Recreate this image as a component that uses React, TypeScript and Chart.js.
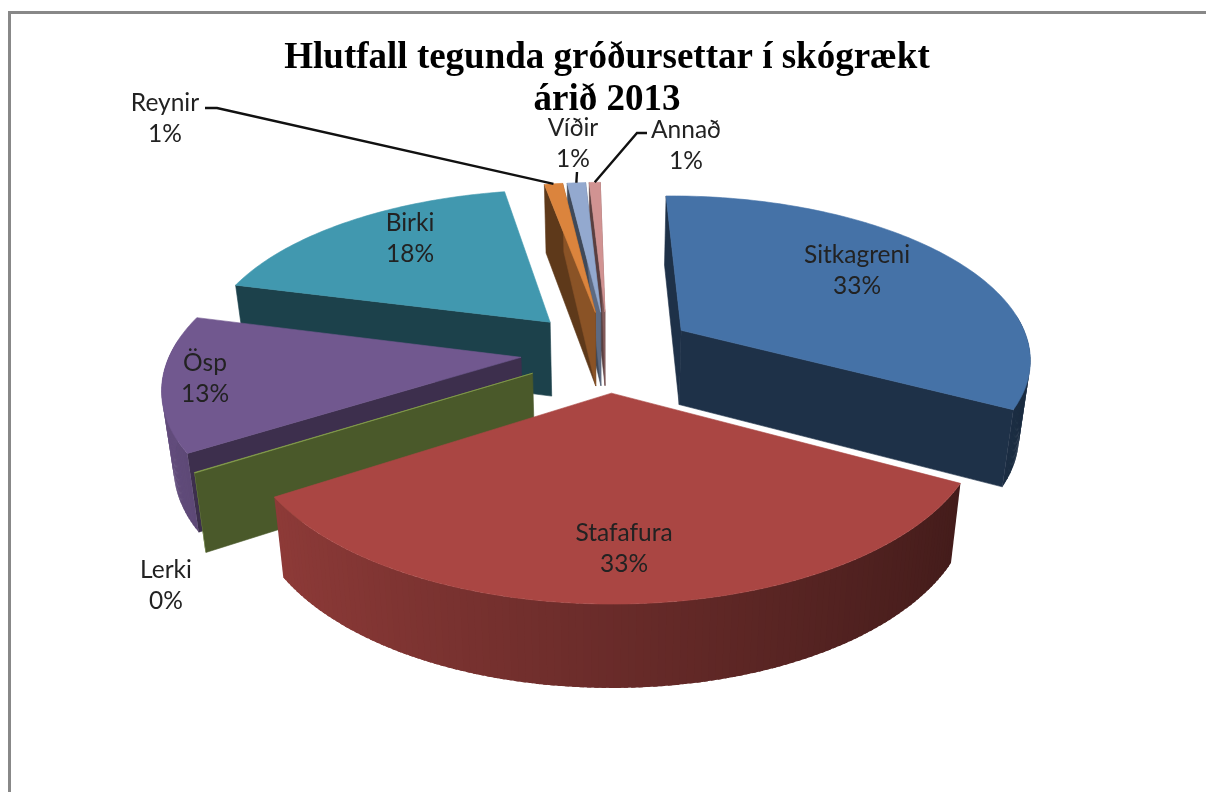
import React, { useEffect, useRef } from "react";
import { Chart, registerables } from "chart.js";

Chart.register(...registerables);

const CATEGORIES = ["Sitkagreni", "Stafafura", "Lerki", "Ösp", "Birki", "Reynir", "Víðir", "Annað"];
const VALUES = [33, 33, 0.05, 13, 18, 1, 1, 0.6];
const COLORS = ["#4572A7", "#AA4643", "#89A54E", "#71588F", "#4198AF", "#DB843D", "#93A9CF", "#D19392"];
const TITLE_LINES = ["Hlutfall tegunda gróðursettar í skógrækt", "árið 2013"];

// label anchors (centre of the two text lines) on the picture
const LABEL_X = [857, 624, 166, 205, 410, 165, 573, 686];
const LABEL_Y = [271, 549, 586, 379, 239, 119, 144, 146];
// leader line start points; the end is found from the slice itself
const LEADERS: Record<number, number[][]> = {
  5: [[205, 108], [217, 108]],
  6: [[577, 172]],
  7: [[647, 133], [637, 133]],
};

// view of the tilted disc
const CX = 608, CY = 351, AX = 350, BY = 162, K = 0.16, DEPTH = 75, CONVERGE = 0.027;

const shade = (hex: string, f: number) => {
  const n = parseInt(hex.slice(1), 16);
  const c = [(n >> 16) & 255, (n >> 8) & 255, n & 255].map((v) => Math.round(v * f));
  return `rgb(${c[0]},${c[1]},${c[2]})`;
};

const project = (u: number, v: number, down = false) => {
  const w = 1 + K * v;
  const sx = down ? 1 - CONVERGE : 1;
  return { x: CX + ((AX * u) / w) * sx, y: CY - (BY * v) / w + (down ? DEPTH / Math.sqrt(w) : 0) };
};

const poly = (ctx: CanvasRenderingContext2D, pts: { x: number; y: number }[], fill: string, stroke = true) => {
  ctx.beginPath();
  pts.forEach((p, i) => (i ? ctx.lineTo(p.x, p.y) : ctx.moveTo(p.x, p.y)));
  ctx.closePath();
  ctx.fillStyle = fill;
  ctx.fill();
  if (stroke) {
    ctx.strokeStyle = fill;
    ctx.lineWidth = 0.6;
    ctx.stroke();
  }
};

const sliceGeom = (arc: any) => {
  const t0 = arc.startAngle + Math.PI / 2;
  const t1 = arc.endAngle + Math.PI / 2;
  const mid = (t0 + t1) / 2;
  const e = (arc.options.offset || 0) / 100;
  return { t0, t1, mid, ou: e * Math.sin(mid), ov: e * Math.cos(mid) };
};

const pie3d = {
  id: "pie3d",
  beforeDatasetDraw(chart: any) {
    const ctx: CanvasRenderingContext2D = chart.ctx;
    const arcs: any[] = chart.getDatasetMeta(0).data;
    const order = arcs
      .map((a, i) => ({ a, i, g: sliceGeom(a) }))
      .sort((p, q) => Math.cos(q.g.mid) - Math.cos(p.g.mid));
    ctx.save();
    for (const { i, g } of order) {
      const base = COLORS[i];
      const at = (t: number, r = 1, down = false) =>
        project(g.ou + r * Math.sin(t), g.ov + r * Math.cos(t), down);
      const steps = Math.max(2, Math.ceil(((g.t1 - g.t0) * 180) / Math.PI));
      const dt = (g.t1 - g.t0) / steps;
      // radial walls that face the viewer
      [
        { t: g.t0, n: g.t0 - Math.PI / 2 },
        { t: g.t1, n: g.t1 + Math.PI / 2 },
      ].forEach((w) => {
        if (Math.cos(w.n) < 0.12) {
          const f = 0.43 + 0.2 * Math.max(Math.sin(w.n), 0);
          poly(ctx, [at(w.t, 0), at(w.t, 1), at(w.t, 1, true), at(w.t, 0, true)], shade(base, f));
        }
      });
      // rim wall, only where it faces the viewer
      for (let s = 0; s < steps; s++) {
        const a = g.t0 + dt * s;
        const b = g.t0 + dt * (s + 1);
        if (Math.cos((a + b) / 2) > 0.1) continue;
        const f = 0.62 - 0.25 * Math.sin((a + b) / 2);
        const bb = s < steps - 1 ? b + dt * 0.6 : b;
        poly(ctx, [at(a), at(bb), at(bb, 1, true), at(a, 1, true)], shade(base, f), false);
      }
      // top face
      const top = [at(g.t0, 0)];
      for (let s = 0; s <= steps; s++) top.push(at(g.t0 + dt * s));
      poly(ctx, top, base);
    }
    ctx.restore();
    return false;
  },
  afterDatasetsDraw(chart: any) {
    const ctx: CanvasRenderingContext2D = chart.ctx;
    const arcs: any[] = chart.getDatasetMeta(0).data;
    const total = VALUES.reduce((s, v) => s + v, 0);
    ctx.save();
    ctx.strokeStyle = "#111";
    ctx.lineWidth = 2.4;
    Object.keys(LEADERS).forEach((k) => {
      const i = Number(k);
      const g = sliceGeom(arcs[i]);
      const end = project(g.ou + Math.sin(g.mid), g.ov + Math.cos(g.mid));
      ctx.beginPath();
      LEADERS[i].forEach((p, j) => (j ? ctx.lineTo(p[0], p[1]) : ctx.moveTo(p[0], p[1])));
      ctx.lineTo(end.x, end.y);
      ctx.stroke();
    });
    ctx.fillStyle = "#222";
    ctx.font = '24.5px Lato, "Noto Sans", sans-serif';
    ctx.textAlign = "center";
    ctx.textBaseline = "middle";
    CATEGORIES.forEach((name, i) => {
      ctx.fillText(name, LABEL_X[i], LABEL_Y[i] - 15.5);
      ctx.fillText(`${Math.round((VALUES[i] / total) * 100)}%`, LABEL_X[i], LABEL_Y[i] + 15.5);
    });
    ctx.restore();
  },
};

export default function App() {
  const ref = useRef<HTMLCanvasElement>(null);
  useEffect(() => {
    const chart = new Chart(ref.current!, {
      type: "pie",
      data: {
        labels: CATEGORIES,
        datasets: [{ data: VALUES, backgroundColor: COLORS, borderWidth: 0, offset: 25 }],
      },
      options: {
        responsive: false,
        animation: false,
        rotation: -1,
        layout: { padding: { left: 8, right: 0 } },
        plugins: {
          legend: { display: false },
          tooltip: { enabled: false },
          title: {
            display: true,
            text: TITLE_LINES,
            color: "#000",
            font: { family: '"Liberation Serif", serif', size: 37, weight: "bold", lineHeight: 1.14 },
            padding: { top: 37, bottom: 4 },
          },
        },
      },
      plugins: [pie3d],
    } as any);
    return () => chart.destroy();
  }, []);
  return (
    <div style={{ position: "fixed", left: 0, top: 0, width: 1206, height: 792, background: "#fff", overflow: "hidden" }}>
      <div
        style={{
          position: "absolute",
          left: 8,
          top: 11,
          width: 1300,
          height: 900,
          borderTop: "3px solid #888",
          borderLeft: "3px solid #888",
        }}
      />
      <canvas ref={ref} width={1206} height={792} style={{ position: "absolute", left: 0, top: 0, display: "block" }} />
    </div>
  );
}
